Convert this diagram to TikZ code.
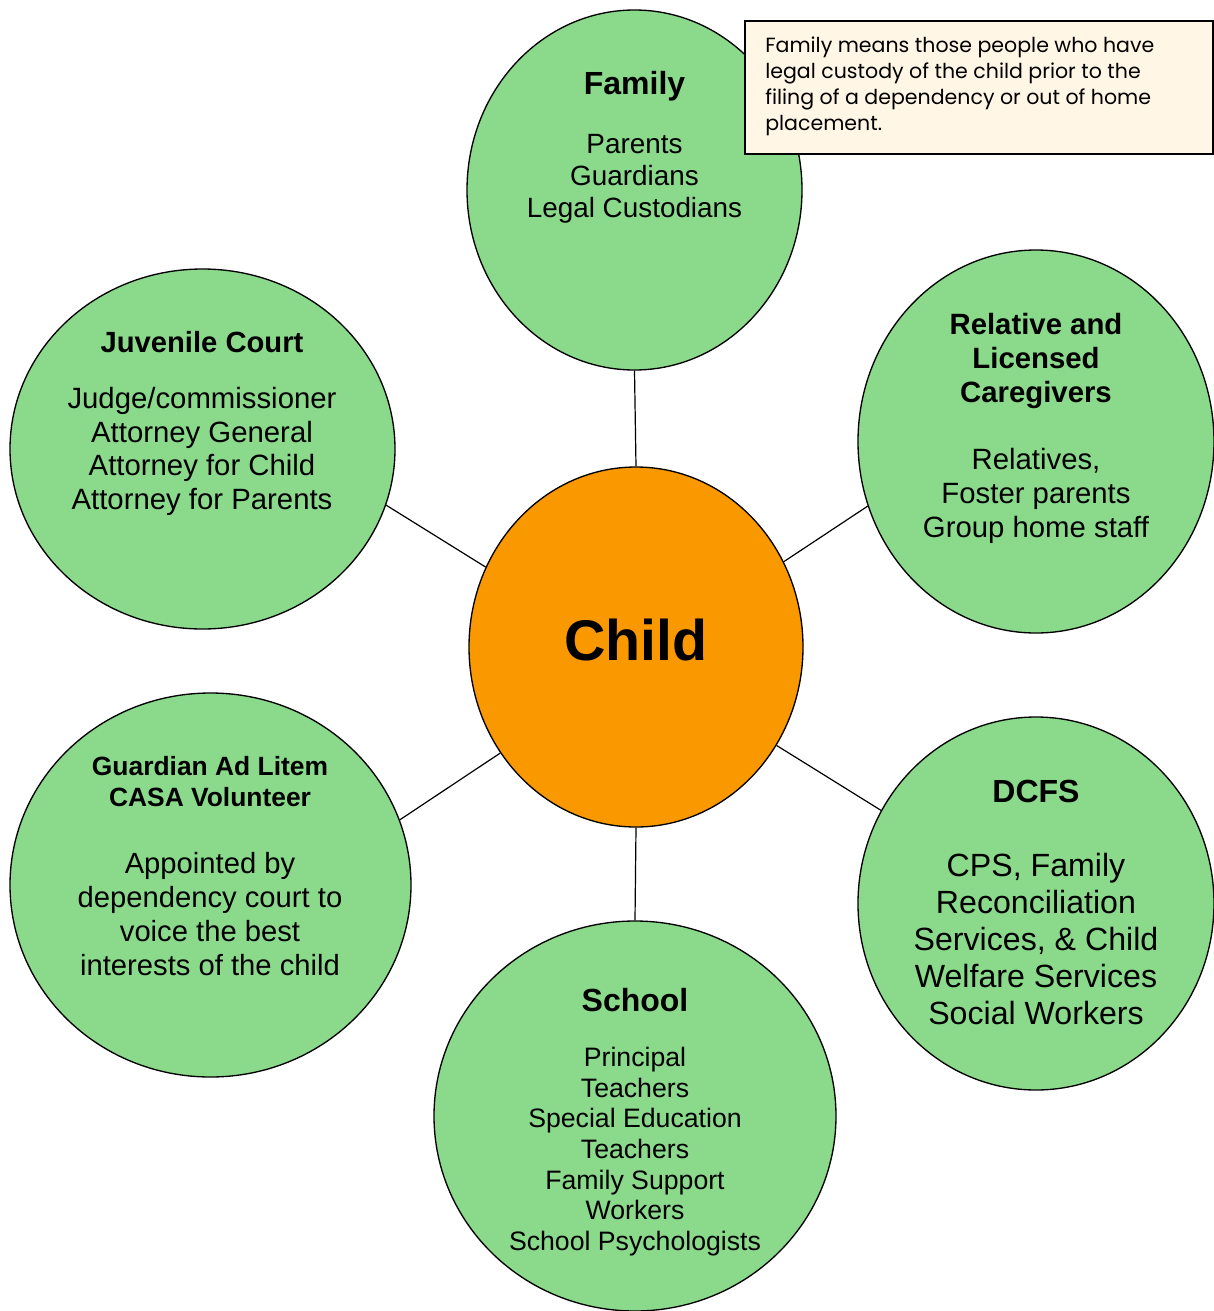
\documentclass[tikz,border=0pt]{standalone}
\usepackage{fontspec}
\setmainfont{Liberation Sans}
\newfontfamily\gothic{Poppins}
\usetikzlibrary{shapes.geometric}
\definecolor{leaf}{RGB}{139,217,139}
\definecolor{amber}{RGB}{250,152,0}
\definecolor{cream}{RGB}{255,246,230}
\tikzset{
  bubble/.style={ellipse,draw=black,line width=1pt,fill=leaf,inner sep=0pt},
  link/.style={draw=black,line width=0.9pt},
  ttl/.style={align=center,inner sep=0pt,font=\bfseries\fontsize{#1}{#1}\selectfont},
  items/.style={align=center,inner sep=0pt},
}
\begin{document}
\begin{tikzpicture}[x=0.75pt,y=-0.75pt]
\useasboundingbox (0,0) rectangle (1214,1311);
% circles
\node[bubble,minimum width=251.25pt,minimum height=270pt] (fam) at (634.5,190) {};
\node[bubble,minimum width=288.75pt,minimum height=270pt] (jc) at (202.5,449) {};
\node[bubble,minimum width=267pt,minimum height=287.25pt] (rel) at (1036,441.5) {};
\node[bubble,fill=amber,minimum width=250.5pt,minimum height=270pt] (child) at (636,647) {};
\node[bubble,minimum width=300.75pt,minimum height=288pt] (gal) at (210.5,885) {};
\node[bubble,minimum width=267pt,minimum height=279.75pt] (dcfs) at (1036,903.5) {};
\node[bubble,minimum width=301.5pt,minimum height=292.5pt] (sch) at (635,1116) {};
% connectors
\draw[link] (fam.270) -- (child.90);
\draw[link] (jc.-17) -- (child.152);
\draw[link] (rel.201) -- (child.30);
\draw[link] (gal.19) -- (child.218);
\draw[link] (dcfs.149) -- (child.-35.5);
\draw[link] (sch.90) -- (child.270);
% texts
\node[ttl=24] (famt) at (634.5,86) {Family};
\node[items,font=\fontsize{20.9}{24}\selectfont] (fami) at (634.5,179) {Parents\\Guardians\\Legal Custodians};
\node[ttl=21.9] (jct) at (202,342) {Juvenile Court};
\node[items,font=\fontsize{22}{25.3}\selectfont] (jci) at (202,451.5) {Judge/commissioner\\Attorney General\\Attorney for Child\\Attorney for Parents};
\node[items,font=\bfseries\fontsize{22}{25.5}\selectfont] (relt) at (1036,361) {Relative and\\Licensed\\Caregivers};
\node[items,font=\fontsize{22}{25.5}\selectfont] (reli) at (1036,496) {Relatives,\\Foster parents\\Group home staff};
\node[ttl=43] (childt) at (636,640) {Child};
\node[items,font=\bfseries\fontsize{19.8}{23.25}\selectfont] (galt) at (210,781.5) {Guardian Ad Litem\\CASA Volunteer};
\node[items,font=\fontsize{21.9}{25.3}\selectfont] (gali) at (210,914) {Appointed by\\dependency court to\\voice the best\\interests of the child};
\node[ttl=24] (dcfst) at (1036,791) {DCFS};
\node[items,font=\fontsize{24.1}{27.75}\selectfont] (dcfsi) at (1036,939) {CPS, Family\\Reconciliation\\Services, \& Child\\Welfare Services\\Social Workers};
\node[ttl=24] (scht) at (635,1000) {School};
\node[items,font=\fontsize{20}{23}\selectfont] (schi) at (635,1151.5) {Principal\\Teachers\\Special Education\\Teachers\\Family Support\\Workers\\School Psychologists};
% callout
\node[draw=black,line width=1pt,fill=cream,minimum width=351pt,minimum height=99.75pt,inner sep=0pt] (note) at (979,87.5) {};
\node[align=left,anchor=west,inner sep=0pt,font=\gothic\fontsize{15.4}{19.5}\selectfont] (notet) at (765,86.5) {Family means those people who have\\legal custody of the child prior to the\\filing of a dependency or out of home\\placement.};
\end{tikzpicture}
\end{document}
